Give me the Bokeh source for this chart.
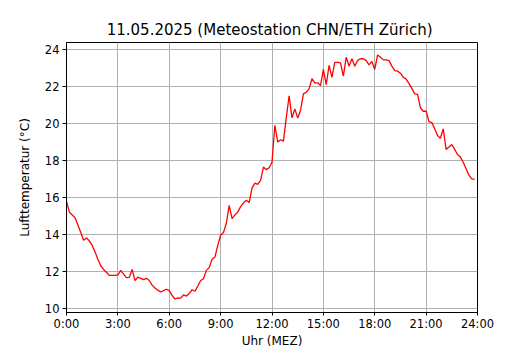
from bokeh.plotting import figure
from bokeh.models import Range1d, FixedTicker, ColumnDataSource
from bokeh.embed import file_html
from bokeh.resources import INLINE

title_text = "11.05.2025  (Meteostation CHN/ETH Zürich)"
x_label = "Uhr (MEZ)"
y_label = "Lufttemperatur (°C)"

# 10-minute readings, 00:00 .. 23:50
temps = [
    15.8, 15.2, 15.05, 14.9, 14.5, 14.1,
    13.68, 13.8, 13.65, 13.4, 13.05, 12.65,
    12.3, 12.1, 11.95, 11.78, 11.78, 11.78,
    11.8, 12.05, 11.85, 11.66, 11.67, 12.1,
    11.5, 11.68, 11.62, 11.55, 11.62, 11.5,
    11.25, 11.1, 10.98, 10.88, 10.95, 11.03,
    10.95, 10.7, 10.5, 10.56, 10.55, 10.72,
    10.66, 10.8, 11.0, 10.92, 11.2, 11.5,
    11.6, 12.05, 12.2, 12.65, 12.77, 13.4,
    13.95, 14.1, 14.6, 15.57, 14.85, 15.05,
    15.2, 15.5, 15.7, 15.85, 15.72, 16.5,
    16.77, 16.7, 16.92, 17.64, 17.5, 17.6,
    17.9, 19.9, 19.0, 19.12, 19.04, 20.3,
    21.5, 20.3, 20.79, 20.3, 20.7, 21.6,
    21.69, 21.87, 22.42, 22.2, 22.2, 22.05,
    22.92, 22.1, 23.14, 22.5, 23.3, 23.3,
    23.28, 22.56, 23.58, 23.1, 23.5, 23.1,
    23.41, 23.5, 23.5, 23.4, 23.17, 23.35,
    22.92, 23.71, 23.58, 23.44, 23.44, 23.4,
    23.1, 22.86, 22.83, 22.72, 22.5, 22.4,
    22.15, 21.9, 21.6, 21.57, 20.85, 20.66,
    20.66, 20.1, 20.05, 19.71, 19.35, 19.2,
    19.71, 18.59, 18.72, 18.86, 18.6, 18.32,
    18.18, 17.9, 17.55, 17.2, 17.0, 16.97,
]
hours = [i / 6 for i in range(len(temps))]

x_ticks = [0, 3, 6, 9, 12, 15, 18, 21, 24]
x_tick_labels = ["0:00", "3:00", "6:00", "9:00", "12:00", "15:00", "18:00", "21:00", "24:00"]
y_ticks = [10, 12, 14, 16, 18, 20, 22, 24]

FONT = "DejaVu Sans"

src = ColumnDataSource(data=dict(h=hours, t=temps))

p = figure(width=530, height=350, output_backend="svg", toolbar_location=None,
           x_range=Range1d(0, 24), y_range=Range1d(9.77, 24.38),
           min_border_left=66, min_border_right=53, min_border_top=42, min_border_bottom=37)

p.title.text = title_text
p.title.align = "center"
p.title.text_font = FONT
p.title.text_font_size = "15px"
p.title.text_font_style = "normal"
p.title.text_color = "black"
p.title.standoff = 8

p.line("h", "t", source=src, line_color="red", line_width=1.3)

p.background_fill_color = "white"
p.border_fill_color = "white"
p.outline_line_color = "black"
p.outline_line_width = 1
p.outline_line_alpha = 1

for g in (p.xgrid[0], p.ygrid[0]):
    g.grid_line_color = "#b0b0b0"
    g.grid_line_width = 1
p.xgrid[0].ticker = FixedTicker(ticks=x_ticks)
p.ygrid[0].ticker = FixedTicker(ticks=y_ticks)

xa = p.xaxis[0]
xa.ticker = FixedTicker(ticks=x_ticks)
xa.major_label_overrides = {t: l for t, l in zip(x_ticks, x_tick_labels)}
ya = p.yaxis[0]
ya.ticker = FixedTicker(ticks=y_ticks)

for ax in (xa, ya):
    ax.axis_line_color = "black"
    ax.major_tick_in = 0
    ax.major_tick_out = 4
    ax.major_tick_line_color = "black"
    ax.minor_tick_line_color = None
    ax.major_label_text_font = FONT
    ax.major_label_text_font_size = "11.5px"
    ax.major_label_text_color = "black"
    ax.axis_label_text_font = FONT
    ax.axis_label_text_font_size = "12px"
    ax.axis_label_text_font_style = "normal"
    ax.axis_label_text_color = "black"

xa.axis_label = x_label
xa.major_label_standoff = 1
xa.axis_label_standoff = 0
xa.major_tick_out = 3
ya.axis_label = y_label
ya.major_label_standoff = 3
ya.axis_label_standoff = 10

open("out.html", "w").write(file_html(p, INLINE))
